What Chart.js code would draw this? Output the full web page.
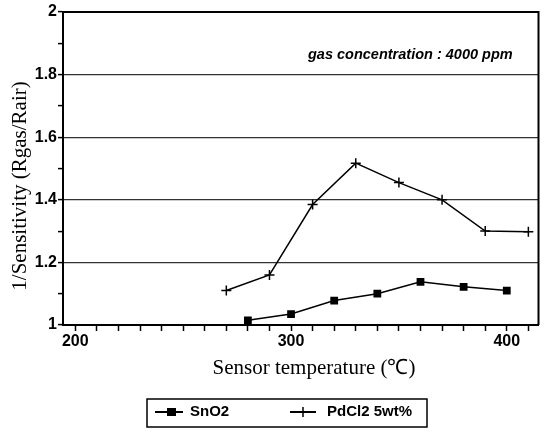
<!DOCTYPE html>
<html>
<head>
<meta charset="utf-8">
<script src="https://cdn.jsdelivr.net/npm/chart.js@4.4.1/dist/chart.umd.min.js"></script>
<style>
  html, body { margin: 0; padding: 0; background: #fff; }
</style>
</head>
<body>
<canvas id="grafica" width="545" height="432"></canvas>
<script>
// datos
const tempSnO2 = [280, 300, 320, 340, 360, 380, 400];
const valSnO2 = [1.015, 1.035, 1.078, 1.10, 1.138, 1.122, 1.11];
const tempPd = [270, 290, 310, 330, 350, 370, 390, 410];
const valPd = [1.11, 1.16, 1.385, 1.517, 1.455, 1.40, 1.30, 1.298];
const xTicks = [200, 210, 220, 230, 240, 250, 260, 270, 280, 290, 300, 310, 320, 330, 340, 350, 360, 370, 380, 390, 400, 410];
const xLabels = [200, 300, 400];
const yLabels = [1, 1.2, 1.4, 1.6, 1.8, 2];
const legendNames = ['SnO2', 'PdCl2 5wt%'];

const puntos = (xs, ys) => xs.map((x, i) => ({ x: x, y: ys[i] }));
const esEtiquetaY = v => yLabels.some(l => Math.abs(l - v) < 1e-6);

const marcoPlugin = {
    id: 'marco',
    afterDraw(chart) {
        const c = chart.ctx;
        const a = chart.chartArea;
        c.save();
        c.strokeStyle = '#000';
        c.lineWidth = 2;
        c.beginPath();
        c.moveTo(a.left, a.top);
        c.lineTo(a.right, a.top);
        c.lineTo(a.right, a.bottom);
        c.stroke();

        // nota de concentracion
        c.fillStyle = '#000';
        c.font = 'italic bold 14.5px "Liberation Sans", Arial, sans-serif';
        c.textAlign = 'left';
        c.textBaseline = 'middle';
        c.fillText('gas concentration : 4000 ppm', 308, 55);

        // titulos de ejes
        c.font = '21px "Liberation Serif", "Times New Roman", serif';
        c.textAlign = 'center';
        c.fillText('Sensor temperature (\u2103)', 314, 368);
        c.save();
        c.translate(20, 186);
        c.rotate(-Math.PI / 2);
        c.fillText('1/Sensitivity (Rgas/Rair)', 0, 0);
        c.restore();

        // leyenda
        c.lineWidth = 1.5;
        c.strokeRect(147, 399, 280, 28);
        const yl = 412;
        c.lineWidth = 2;
        c.beginPath();
        c.moveTo(155, yl); c.lineTo(183, yl);
        c.moveTo(290, yl); c.lineTo(316, yl);
        c.stroke();
        c.fillRect(167, yl - 4, 9, 8);
        c.lineWidth = 1.5;
        c.beginPath();
        c.moveTo(303, yl - 5); c.lineTo(303, yl + 5);
        c.stroke();
        c.font = 'bold 15px "Liberation Sans", Arial, sans-serif';
        c.textAlign = 'left';
        c.fillText(legendNames[0], 190, yl);
        c.fillText(legendNames[1], 327, yl);
        c.restore();
    }
};

const ctx = document.getElementById('grafica').getContext('2d');
new Chart(ctx, {
    type: 'line',
    data: {
        datasets: [{
            label: legendNames[0],
            data: puntos(tempSnO2, valSnO2),
            borderColor: '#000',
            backgroundColor: '#000',
            borderWidth: 1.5,
            pointStyle: 'rect',
            pointRadius: 5.5,
            pointBorderWidth: 0,
            tension: 0
        }, {
            label: legendNames[1],
            data: puntos(tempPd, valPd),
            borderColor: '#000',
            backgroundColor: '#000',
            borderWidth: 1.5,
            pointStyle: 'cross',
            pointRadius: 5,
            pointBorderWidth: 1.5,
            tension: 0
        }]
    },
    options: {
        responsive: false,
        animation: false,
        layout: { padding: { left: 0, right: 2, top: 12, bottom: 77 } },
        plugins: {
            legend: { display: false },
            tooltip: { enabled: false }
        },
        scales: {
            x: {
                type: 'linear',
                min: 194.3,
                max: 414.7,
                afterBuildTicks: s => { s.ticks = xTicks.map(v => ({ value: v })); },
                afterFit: s => { s.height = 30; },
                ticks: {
                    color: '#000',
                    padding: 1,
                    maxRotation: 0,
                    autoSkip: false,
                    font: { family: '"Liberation Sans", Arial, sans-serif', size: 16, weight: 'bold' },
                    callback: v => xLabels.includes(v) ? String(v) : ''
                },
                grid: { drawOnChartArea: false, tickLength: 6, tickColor: '#000', tickWidth: 1.5 },
                border: { display: true, color: '#000', width: 2 }
            },
            y: {
                min: 1,
                max: 2,
                afterBuildTicks: s => {
                    const t = [];
                    for (let i = 0; i <= 10; i++) t.push({ value: Math.round((1 + i * 0.1) * 10) / 10 });
                    s.ticks = t;
                },
                afterFit: s => { s.width = 63; },
                ticks: {
                    color: '#000',
                    padding: 1,
                    autoSkip: false,
                    font: { family: '"Liberation Sans", Arial, sans-serif', size: 16, weight: 'bold' },
                    callback: v => esEtiquetaY(v) ? String(Math.round(v * 10) / 10) : ''
                },
                grid: {
                    tickLength: 5,
                    tickColor: '#000',
                    tickWidth: 1.5,
                    lineWidth: 1.2,
                    color: c => {
                        const v = c.tick ? c.tick.value : 0;
                        return (esEtiquetaY(v) && v > 1.01 && v < 1.99) ? '#333' : 'rgba(0,0,0,0)';
                    }
                },
                border: { display: true, color: '#000', width: 2 }
            }
        }
    },
    plugins: [marcoPlugin]
});
</script>
</body>
</html>
